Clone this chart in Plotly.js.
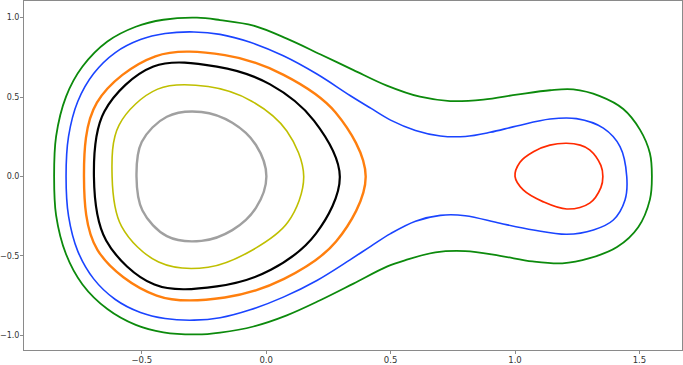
<!DOCTYPE html>
<html>
<head>
<meta charset="utf-8">
<script src="https://cdn.plot.ly/plotly-3.0.1.min.js"></script>
<style>
  html, body { margin: 0; padding: 0; background: #fff; }
  #orbits { width: 683px; height: 365px; }
</style>
</head>
<body>
<div id="orbits"></div>
<script>
// orbit curves, each one a closed loop (starts and ends on the same point)
var gray_x = [0.001, -0.041, -0.136, -0.260, -0.399, -0.500, -0.521, -0.497, -0.399, -0.260, -0.136, -0.041, 0.001];
var gray_y = [0.000, 0.198, 0.338, 0.406, 0.376, 0.217, 0.000, -0.214, -0.376, -0.406, -0.338, -0.198, 0.000];

var yellow_x = [0.151, 0.083, -0.058, -0.233, -0.436, -0.591, -0.619, -0.581, -0.432, -0.233, -0.060, 0.087, 0.151];
var yellow_y = [0.000, 0.286, 0.474, 0.566, 0.550, 0.324, 0.000, -0.314, -0.539, -0.572, -0.468, -0.289, 0.000];

var black_x = [0.296, 0.192, 0.016, -0.198, -0.453, -0.650, -0.692, -0.643, -0.449, -0.198, 0.019, 0.200, 0.296];
var black_y = [0.000, 0.352, 0.580, 0.692, 0.692, 0.409, 0.000, -0.403, -0.681, -0.692, -0.588, -0.360, 0.000];

var orange_x = [0.400, 0.279, 0.070, -0.166, -0.445, -0.680, -0.732, -0.678, -0.440, -0.166, 0.072, 0.281, 0.400];
var orange_y = [0.000, 0.403, 0.640, 0.764, 0.757, 0.465, 0.000, -0.462, -0.750, -0.762, -0.645, -0.410, 0.000];

var blue_x = [-0.804, -0.794, -0.757, -0.693, -0.606, -0.505, -0.406, -0.290, -0.185, -0.064, 0.069, 0.204,
              0.337, 0.420, 0.500, 0.600, 0.700, 0.800, 0.900, 1.007, 1.141, 1.247, 1.355, 1.422, 1.449,
              1.442, 1.395, 1.315, 1.208, 1.074, 0.940, 0.800, 0.700, 0.600, 0.500, 0.420, 0.337, 0.204,
              0.069, -0.064, -0.185, -0.290, -0.406, -0.505, -0.606, -0.693, -0.757, -0.794, -0.804];
var blue_y = [0.000, 0.252, 0.472, 0.648, 0.780, 0.862, 0.900, 0.910, 0.895, 0.845, 0.760, 0.645,
              0.510, 0.430, 0.355, 0.290, 0.255, 0.252, 0.278, 0.318, 0.362, 0.364, 0.304, 0.188, 0.000,
              -0.148, -0.274, -0.337, -0.364, -0.337, -0.295, -0.247, -0.245, -0.282, -0.360, -0.440, -0.525, -0.655,
              -0.760, -0.840, -0.890, -0.905, -0.895, -0.857, -0.775, -0.645, -0.470, -0.250, 0.000];

var green_x = [-0.852, -0.844, -0.804, -0.738, -0.638, -0.524, -0.413, -0.278, -0.185, -0.051, 0.083, 0.217,
               0.351, 0.485, 0.618, 0.739, 0.873, 1.007, 1.141, 1.234, 1.341, 1.435, 1.502, 1.542, 1.550,
               1.542, 1.495, 1.410, 1.300, 1.190, 1.070, 0.940, 0.800, 0.680, 0.560, 0.485, 0.351, 0.217,
               0.083, -0.051, -0.185, -0.278, -0.413, -0.524, -0.638, -0.738, -0.804, -0.844, -0.852];
var green_y = [0.000, 0.252, 0.503, 0.692, 0.850, 0.943, 0.987, 1.000, 0.985, 0.950, 0.868, 0.770,
               0.670, 0.572, 0.502, 0.475, 0.484, 0.515, 0.543, 0.548, 0.506, 0.425, 0.295, 0.146, 0.000,
               -0.146, -0.320, -0.445, -0.515, -0.547, -0.535, -0.500, -0.470, -0.478, -0.527, -0.568, -0.675, -0.780,
               -0.875, -0.945, -0.983, -0.995, -0.982, -0.935, -0.835, -0.680, -0.490, -0.245, 0.000];

var red_x = [1.000, 1.020, 1.074, 1.140, 1.207, 1.262, 1.300, 1.345, 1.353,
             1.345, 1.300, 1.208, 1.114, 1.033, 1.000];
var red_y = [0.000, 0.090, 0.156, 0.197, 0.209, 0.197, 0.168, 0.070, 0.000,
             -0.070, -0.168, -0.205, -0.160, -0.085, 0.000];

var xticks = [-0.5, 0.0, 0.5, 1.0, 1.5];
var yticks = [-1.0, -0.5, 0.0, 0.5, 1.0];

function orbit(xs, ys, color, w) {
  return {
    x: xs,
    y: ys,
    type: 'scatter',
    mode: 'lines',
    line: {color: color, width: w, shape: 'spline', smoothing: 1},
    hoverinfo: 'skip',
  };
}

var traces = [
  orbit(green_x, green_y, '#0c8a0c', 1.8),
  orbit(blue_x, blue_y, '#1a44ff', 1.6),
  orbit(orange_x, orange_y, '#ff7f0e', 2.4),
  orbit(black_x, black_y, '#000000', 2.2),
  orbit(yellow_x, yellow_y, '#bfbf00', 1.6),
  orbit(gray_x, gray_y, '#a0a0a0', 2.4),
  orbit(red_x, red_y, '#ff2a00', 1.7),
];

var axis_common = {
  showgrid: false,
  zeroline: false,
  showline: true,
  mirror: true,
  linecolor: '#8a8a8a',
  linewidth: 1,
  ticks: 'outside',
  ticklen: 3,
  tickwidth: 1,
  tickcolor: '#8a8a8a',
  tickfont: {family: 'DejaVu Sans', size: 8.5, color: '#333'},
  tickformat: '.1f',
  automargin: false,
};

var layout = {
  width: 683,
  height: 365,
  margin: {l: 24, r: 1, t: 1, b: 15},
  paper_bgcolor: '#fff',
  plot_bgcolor: '#fff',
  showlegend: false,
  xaxis: Object.assign({}, axis_common, {
    range: [-0.973, 1.671],
    tickvals: xticks,
    ticklabelstandoff: -1,
  }),
  yaxis: Object.assign({}, axis_common, {
    range: [-1.093, 1.105],
    tickvals: yticks,
    ticklabelstandoff: -1,
    tickfont: {family: 'DejaVu Sans', size: 8, color: '#333'},
  }),
};

Plotly.newPlot('orbits', traces, layout, {staticPlot: true});
</script>
</body>
</html>
